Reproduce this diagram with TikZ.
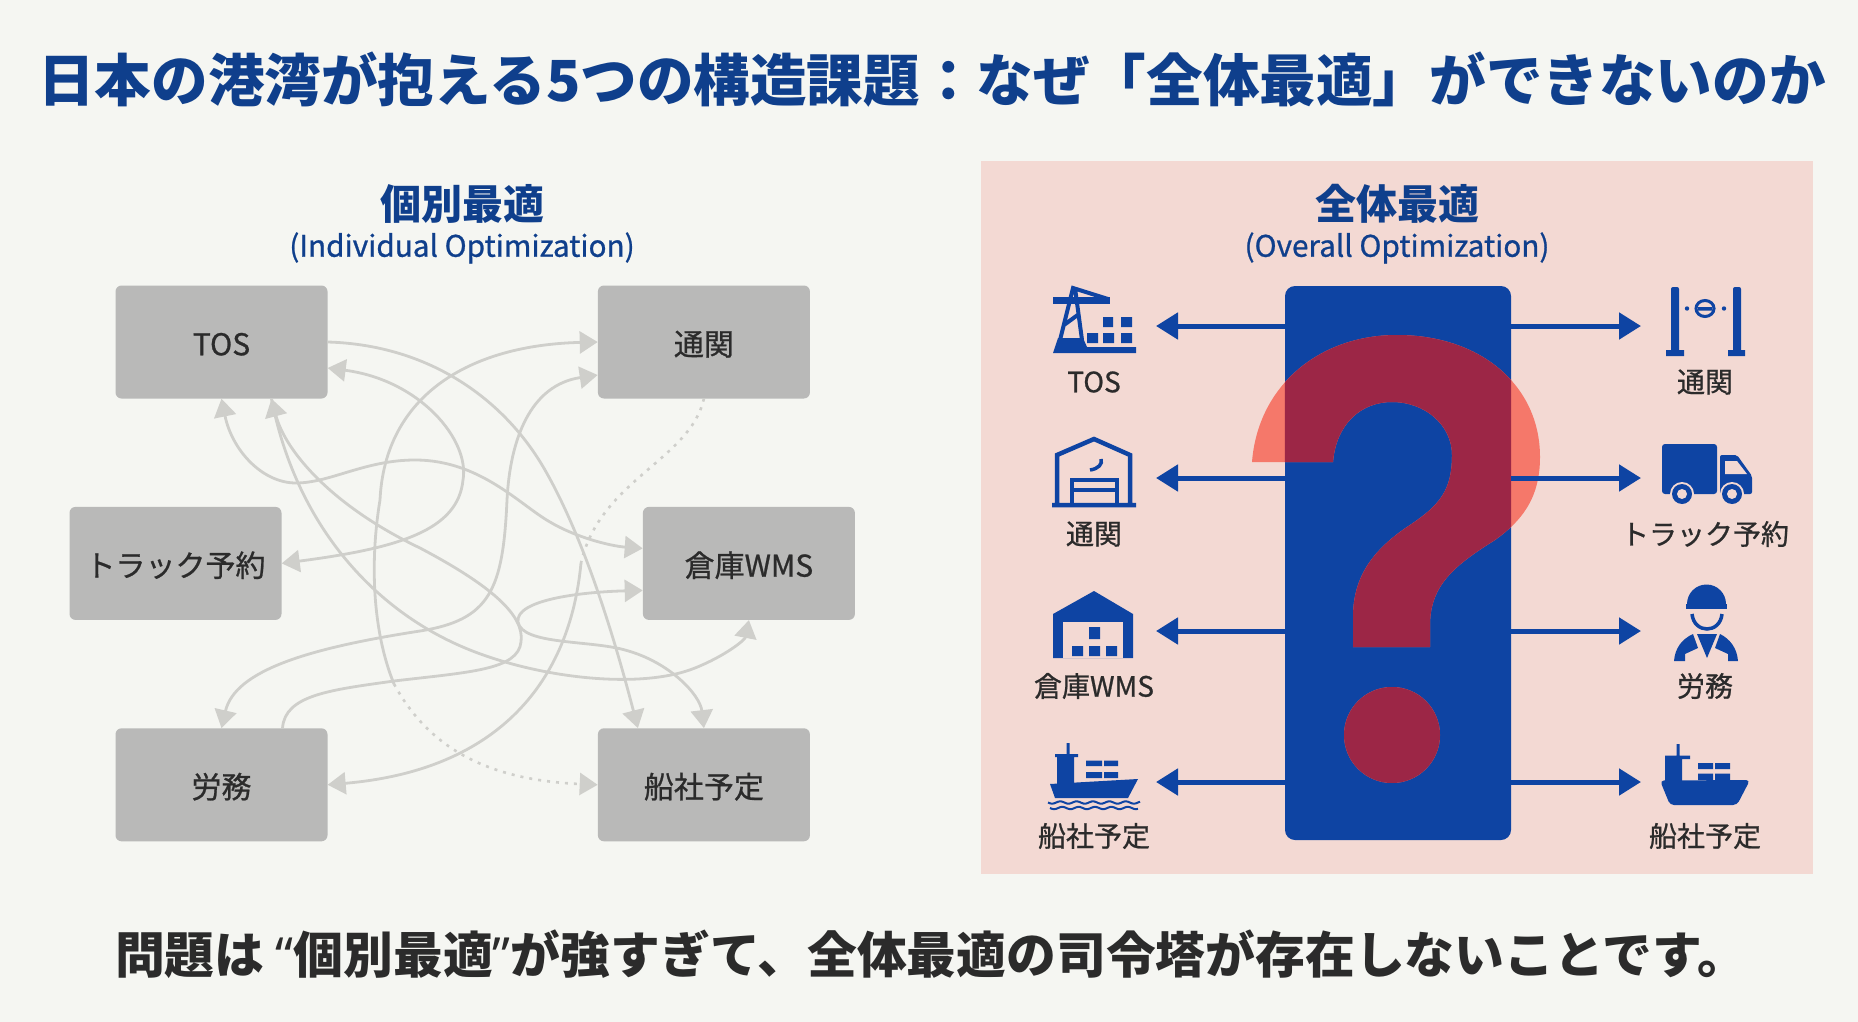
\documentclass[tikz,border=0pt]{standalone}
\usepackage{fontspec}
\usepackage{xcolor}
\setmainfont{Noto Sans CJK JP}
\newfontfamily\mediumfont{Noto Sans CJK JP}[FakeBold=0.8]
\newfontfamily\quotefont{Noto Sans}
\usetikzlibrary{positioning, arrows.meta}
\definecolor{pagebg}{HTML}{F5F6F2}
\definecolor{panelpink}{HTML}{F3D9D3}
\definecolor{navy}{HTML}{0E44A3}
\definecolor{headblue}{HTML}{0F3F8C}
\definecolor{boxgray}{HTML}{B9B9B8}
\definecolor{linkgray}{HTML}{CFCFCB}
\definecolor{qcoral}{HTML}{F5786A}
\definecolor{qcrimson}{HTML}{9C2646}
\definecolor{inktext}{HTML}{2B2B2B}
\newcommand{\qmarkpath}{(1252,462) .. controls (1258,385) and (1320,335) .. (1397,335) .. controls (1480,335) and (1540,385) .. (1540,457) .. controls (1540,500) and (1520,522) .. (1495,540) .. controls (1455,565) and (1430,585) .. (1430,625) -- (1430,647) -- (1353,647) -- (1353,617) .. controls (1353,575) and (1375,548) .. (1410,525) .. controls (1440,505) and (1452,490) .. (1452,455) .. controls (1452,425) and (1425,402) .. (1392,402) .. controls (1360,402) and (1336,425) .. (1333,462) -- cycle (1392,735) circle (48)}
\begin{document}
\begin{tikzpicture}[
        x=1pt, y=-1pt,
        node distance=108pt and 270pt,
        box/.style={rectangle, rounded corners=6pt, fill=boxgray, text=inktext, minimum width=212pt, minimum height=113pt, inner sep=0pt, text height=30pt, text depth=3.5pt, font=\fontsize{30}{36}\selectfont\mediumfont},
        link/.style={linkgray, line width=2.8pt, arrows={-Triangle[length=18pt, width=22pt]}},
        linkboth/.style={linkgray, line width=2.8pt, arrows={Triangle[length=18pt, width=22pt]-Triangle[length=18pt, width=22pt]}},
        linkdot/.style={linkgray, line width=2.6pt, dash pattern=on 3pt off 6pt},
        bigarrow/.style={navy, line width=5pt, arrows={-Triangle[length=22pt, width=26pt]}},
        iconlabel/.style={text=inktext, inner sep=0pt, font=\fontsize{28}{34}\selectfont\mediumfont},
        heading/.style={text=headblue, inner sep=0pt, font=\fontsize{41}{48}\selectfont\bfseries},
        subheading/.style={text=headblue, inner sep=0pt, font=\fontsize{29.7}{35}\selectfont\mediumfont},
        iconline/.style={navy, line width=4.5pt},
        ]
        \fill[pagebg] (0,0) rectangle (1858,1022);
        \node[text=headblue, inner sep=0pt, font=\fontsize{56.6}{68}\selectfont\bfseries] (title) at (932,80) {日本の港湾が抱える5つの構造課題：なぜ「全体最適」ができないのか};
        \node[heading] (leftHead) at (462,204) {個別最適};
        \node[subheading] (leftSub) at (462,248) {(Individual Optimization)};

        \node[box] (tos) at (221.5,342) {TOS};
        \node[box, right=of tos] (customs) {通関};
        \node[box, below=of tos, xshift=-46pt] (truck) {トラック予約};
        \node[box, below=of customs, xshift=45pt] (wms) {倉庫WMS};
        \node[box, below=of truck, xshift=46pt] (labor) {労務};
        \node[box, below=of wms, xshift=-45pt] (ship) {船社予定};

        \coordinate (fadeLow) at (394,684);
        \coordinate (fadeMid) at (581,563);
        \draw[link] (tos.east) .. controls (430,345) and (505,400) .. (545,470) .. controls (585,540) and (615,640) .. ([xshift=-66pt]ship.north);
        \draw[link] (fadeLow) .. controls (372,630) and (370,560) .. (380,500) .. controls (385,395) and (470,345) .. (customs.west);
        \draw[linkdot, -{Triangle[length=18pt, width=22pt]}] (fadeLow) .. controls (430,750) and (490,780) .. (ship.west);
        \draw[linkboth] (truck.east) .. controls (400,548) and (458,530) .. (463,480) .. controls (470,440) and (420,380) .. ([yshift=-26pt]tos.east);
        \draw[linkboth] ([yshift=-33pt]customs.west) .. controls (530,385) and (510,440) .. (507,500) .. controls (503,590) and (490,620) .. (420,631) .. controls (310,648) and (235,670) .. (labor.north);
        \draw[linkboth] (tos.south) .. controls (232,450) and (262,483) .. (296,483) .. controls (330,483) and (365,460) .. (415,460) .. controls (480,460) and (520,505) .. (550,522) .. controls (575,537) and (610,546) .. ([yshift=15pt]wms.west);
        \draw[link] ([xshift=61pt]labor.north) .. controls (285,695) and (330,690) .. (394,681) .. controls (470,672) and (518,670) .. (521,642) .. controls (525,615) and (490,585) .. (420,548) .. controls (330,505) and (285,450) .. ([xshift=50pt]tos.south);
        \draw[link] ([xshift=50pt]tos.south) .. controls (295,520) and (370,610) .. (470,650) .. controls (540,678) and (640,690) .. (695,668) .. controls (725,656) and (745,640) .. (wms.south);
        \draw[linkboth] ([yshift=-27pt]wms.west) .. controls (580,592) and (515,600) .. (518,622) .. controls (522,645) and (590,640) .. (625,650) .. controls (670,662) and (700,695) .. (ship.north);
        \draw[link] (fadeMid) .. controls (570,680) and (500,770) .. (labor.east);
        \draw[linkdot] (customs.south) .. controls (690,460) and (600,480) .. (fadeMid);

        \node[fill=panelpink, minimum width=832pt, minimum height=713pt, inner sep=0pt] (panel) at (1397,517.5) {};
        \node[heading] (rightHead) at (1397,204) {全体最適};
        \node[subheading] (rightSub) at (1397,248) {(Overall Optimization)};
        \node[fill=navy, rounded corners=10pt, minimum width=226pt, minimum height=554pt, inner sep=0pt] (hub) at (1398,563) {};
        \fill[qcoral] \qmarkpath;
        \begin{scope}
            \clip (hub.north west) rectangle (hub.south east);
            \fill[qcrimson] \qmarkpath;
        \end{scope}
        \foreach \i/\ypos in {1/326,2/478,3/631,4/782} {
            \coordinate (leftTip\i) at (1156,\ypos);
            \coordinate (rightTip\i) at (1641,\ypos);
            \draw[bigarrow] (hub.west |- leftTip\i) -- (leftTip\i);
            \draw[bigarrow] (hub.east |- rightTip\i) -- (rightTip\i);
        }

        \node[iconlabel] (labelTos) at (1094,382) {TOS};
        \node[iconlabel] (labelCustomsA) at (1094,534) {通関};
        \node[iconlabel] (labelWms) at (1094,686) {倉庫WMS};
        \node[iconlabel] (labelShipA) at (1094,836) {船社予定};
        \node[iconlabel] (labelCustomsB) at (1705,382) {通関};
        \node[iconlabel] (labelTruck) at (1705,534) {トラック予約};
        \node[iconlabel] (labelLabor) at (1705,686) {労務};
        \node[iconlabel] (labelShipB) at (1705,836) {船社予定};

        \fill[navy] (1053,353) -- (1058,338) -- (1083,338) -- (1087,347) -- (1136,347) -- (1136,353) -- cycle;
        \fill[navy] (1053,297) rectangle (1110,304);
        \draw[navy, line width=4pt] (1060,340) -- (1073,288) -- (1108,299) (1075,288) -- (1082,340) (1064,325) -- (1079,314);
        \fill[navy] (1103,317) rectangle (1113,327) (1121,317) rectangle (1132,327) (1087,333) rectangle (1098,343) (1103,333) rectangle (1114,343) (1121,333) rectangle (1132,343);

        \draw[iconline] (1052,505) -- (1136,505) (1057,505) -- (1057,455) -- (1094,439) -- (1130,455) -- (1130,505);
        \draw[iconline] (1072,505) -- (1072,480) -- (1117,480) -- (1117,505) (1072,490) -- (1117,490);
        \draw[navy, line width=3.5pt] (1090,470) .. controls (1098,469) and (1103,464) .. (1101,459);

        \fill[navy] (1053,658) -- (1053,614) -- (1094,591) -- (1133,614) -- (1133,658) -- cycle;
        \fill[panelpink] (1063,622) rectangle (1123,658);
        \fill[navy] (1072,646) rectangle (1083,656) (1089,646) rectangle (1100,656) (1106,646) rectangle (1117,656) (1089,627) rectangle (1100,639);

        \fill[navy] (1050,784) -- (1138,779) -- (1128,798) -- (1055,798) -- cycle;
        \fill[navy] (1057,757) rectangle (1074,784) (1066.5,743) rectangle (1069.5,757) (1055,754) rectangle (1078,757);
        \fill[navy] (1086,760.5) rectangle (1102,766) (1104,760.5) rectangle (1118,766) (1086,772) rectangle (1102,778) (1104,772) rectangle (1118,778);
        \draw[navy, line width=2pt] plot[domain=0:92, samples=45] ({1048+\x},{802.5+1.2*sin(\x*22)});
        \draw[navy, line width=2pt] plot[domain=0:88, samples=45] ({1050+\x},{808+1.2*sin(\x*22)});

        \fill[navy, rounded corners=2pt] (1671,287) rectangle (1679,352) (1733,287) rectangle (1741,352);
        \fill[navy] (1666,350) rectangle (1684,356) (1728,350) rectangle (1745,356);
        \draw[navy, line width=3pt, fill=panelpink] (1705,308.5) ellipse (9 and 8);
        \fill[navy] (1698,307) rectangle (1712,310.5) (1687,308.5) circle (2.2) (1724,308.5) circle (2.2);

        \fill[navy, rounded corners=3pt] (1662,444) rectangle (1717,494);
        \fill[navy, rounded corners=2pt] (1720,455) -- (1737,455) -- (1752,476) -- (1752,494) -- (1720,494) -- cycle;
        \fill[panelpink] (1725,461) -- (1737,461) -- (1747,474) -- (1725,474) -- cycle;
        \foreach \wheelx in {1682,1732} {
            \fill[panelpink] (\wheelx,494) circle (12);
            \fill[navy] (\wheelx,494) circle (10);
            \fill[panelpink] (\wheelx,494) circle (5);
        }

        \fill[navy] (1687,604) arc[start angle=180, end angle=360, radius=19.5] -- cycle;
        \fill[navy] (1686,604) rectangle (1727,609);
        \draw[navy, line width=3.5pt] (1692,614) .. controls (1694,634) and (1720,634) .. (1722,614);
        \fill[navy] (1697,634) -- (1717,634) -- (1707,658) -- cycle;
        \fill[navy] (1674,661) .. controls (1675,648) and (1682,639) .. (1693,634) -- (1698,648) -- (1685,654) -- (1685,661) -- cycle;
        \fill[navy] (1738,661) .. controls (1737,648) and (1730,639) .. (1720,634) -- (1715,648) -- (1728,654) -- (1728,661) -- cycle;

        \fill[navy, rounded corners=4pt] (1660,780.5) -- (1750,780) -- (1737,805) -- (1670,805) -- cycle;
        \fill[navy] (1665,757) rectangle (1682,781) (1676.5,744) rectangle (1679.5,757) (1665,755.5) rectangle (1690,759);
        \fill[navy] (1698,763) rectangle (1713,769) (1715,763) rectangle (1730,769) (1698,773.5) rectangle (1713,780) (1715,773.5) rectangle (1730,780);

        \node[text=inktext, inner sep=0pt, font=\fontsize{49.8}{60}\selectfont\bfseries] (message) at (931,954) {問題は {\quotefont “}個別最適{\quotefont ”}が強すぎて、全体最適の司令塔が存在しないことです。};
    \end{tikzpicture}
\end{document}
